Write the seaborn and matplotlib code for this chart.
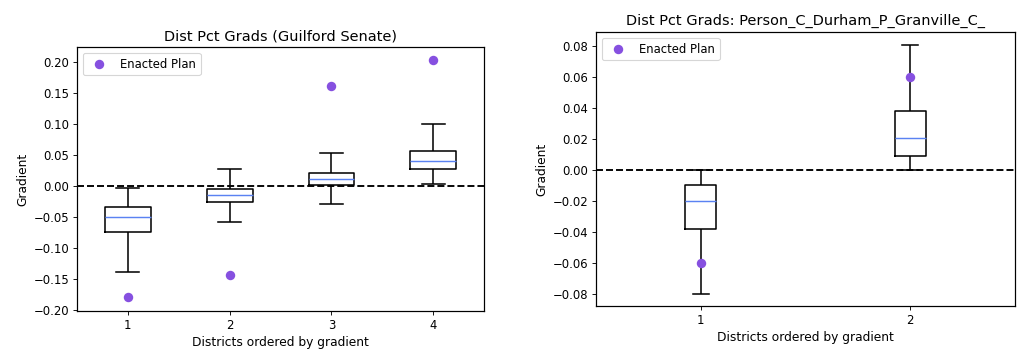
import pandas as pd
import matplotlib.pyplot as plt
import numpy as np
import seaborn as sns

# five-number summaries (whisker low, Q1, median, Q3, whisker high)
guilford_districts = ["1", "2", "3", "4"]
guilford_summary = [
    [-0.138, -0.074, -0.050, -0.033, -0.003],
    [-0.058, -0.026, -0.014, -0.004, 0.028],
    [-0.029, 0.002, 0.012, 0.022, 0.054],
    [0.004, 0.028, 0.041, 0.057, 0.101],
]
guilford_enacted = [-0.179, -0.144, 0.162, 0.204]

durham_districts = ["1", "2"]
durham_summary = [
    [-0.080, -0.038, -0.020, -0.010, 0.000],
    [0.000, 0.009, 0.0205, 0.038, 0.081],
]
durham_enacted = [-0.060, 0.060]

median_color = "#5a82f2"
dot_color = "#8650e0"

plt.rcParams.update({
    "axes.titlesize": 13,
    "axes.labelsize": 11,
    "xtick.labelsize": 10.5,
    "ytick.labelsize": 10.5,
    "legend.fontsize": 10.5,
    "axes.linewidth": 1.1,
})


def long_form(districts, summary):
    rows = []
    for d, vals in zip(districts, summary):
        for v in vals:
            rows.append({"district": d, "gradient": v})
    return pd.DataFrame(rows)


def panel(ax, districts, summary, enacted, title, width, ylim):
    df = long_form(districts, summary)
    sns.boxplot(data=df, x="district", y="gradient", order=districts, ax=ax,
                width=width, whis=(0, 100), fill=False, color="black",
                linewidth=1.4, showfliers=False,
                medianprops={"color": median_color, "linewidth": 1.3})
    sns.stripplot(x=districts, y=enacted, order=districts, ax=ax, jitter=False,
                  color=dot_color, size=8.5, linewidth=0, label="Enacted Plan",
                  zorder=4)
    ax.axhline(0, color="black", ls="--", lw=1.7, zorder=3)
    ax.set_xlim(-0.5, len(districts) - 0.5)
    ax.set_ylim(*ylim)
    ax.set_title(title)
    ax.set_xlabel("Districts ordered by gradient")
    ax.set_ylabel("Gradient")
    handles, labels = ax.get_legend_handles_labels()
    ax.legend(handles[:1], labels[:1], loc="upper left")


fig = plt.figure(figsize=(12.8, 4.5), dpi=80)
ax1 = fig.add_axes([0.0752, 0.1361, 0.3975, 0.7333])
ax2 = fig.add_axes([0.582, 0.15, 0.4092, 0.7611])

panel(ax1, guilford_districts, guilford_summary, guilford_enacted,
      "Dist Pct Grads (Guilford Senate)", 0.45, (-0.2016, 0.2248))
panel(ax2, durham_districts, durham_summary, durham_enacted,
      "Dist Pct Grads: Person_C_Durham_P_Granville_C_", 0.15, (-0.088, 0.0893))

fig.savefig("out.png", dpi=80)
